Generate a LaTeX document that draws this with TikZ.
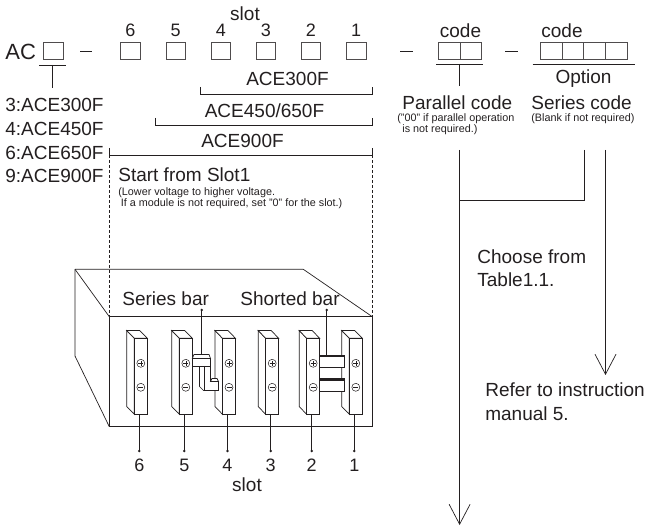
\documentclass[tikz,border=0pt]{standalone}
\usepackage{fontspec}
\setmainfont{Liberation Sans}
\usetikzlibrary{arrows.meta}
\definecolor{ink}{HTML}{231F20}
\tikzset{
  lbl/.style={inner sep=0pt, font=\fontsize{19}{22}\selectfont},
  biglbl/.style={inner sep=0pt, font=\fontsize{22}{26}\selectfont},
  diglbl/.style={inner sep=0pt, font=\fontsize{18}{21}\selectfont},
  smalllbl/.style={inner sep=0pt, font=\fontsize{10.8}{13}\selectfont},
  codebox/.style={draw=ink!80, line width=0.6pt, minimum width=19.5pt, minimum height=17.5pt, inner sep=0pt},
  optbox/.style={draw=ink!80, line width=0.6pt, minimum width=21.8pt, minimum height=17.5pt, inner sep=0pt},
  dashline/.style={dashed, dash pattern=on 3pt off 2pt, line width=0.6pt},
  openarrow/.style={-{Straight Barb[length=20pt,width=21pt,line width=0.7pt]}},
  dotmark/.style={fill=ink}
}
\begin{document}
\begin{tikzpicture}[x=1pt,y=-1pt,line width=0.7pt,color=ink]
\useasboundingbox (0,0) rectangle (645,526);

% ---------- left code: AC box ----------
\node[biglbl, anchor=base west] (ac) at (5,60) {AC};
\node[codebox] (acbox) at (53.3,51) {};
\coordinate (acul1) at (39,65);
\coordinate (acul2) at (66,65);
\coordinate (acmid) at (52.5,65);
\coordinate (acdown) at (52.5,88);
\draw (acul1) -- (acul2);
\draw (acmid) -- (acdown);
\coordinate (dashA1) at (80,51.5);
\coordinate (dashA2) at (92,51.5);
\draw (dashA1) -- (dashA2);

\node[lbl, anchor=base west] (m3) at (5,112) {3:ACE300F};
\node[lbl, anchor=base west] (m4) at (5,136) {4:ACE450F};
\node[lbl, anchor=base west] (m6) at (5,159.5) {6:ACE650F};
\node[lbl, anchor=base west] (m9) at (5,183) {9:ACE900F};

% ---------- slot boxes ----------
\node[lbl, anchor=base] (slottop) at (245,20.5) {slot};
\foreach \n/\x in {6/130.3,5/175.7,4/220.8,3/265.9,2/311,1/356.2}{
  \node[codebox] (s\n) at (\x,51) {};
  \node[diglbl, anchor=base] (sn\n) at (\x,37) {\n};
}

% ---------- brackets ----------
\coordinate (b1a) at (200,87);   \coordinate (b1b) at (200,94.5);
\coordinate (b1c) at (372.3,94.5); \coordinate (b1d) at (372.3,87);
\draw (b1a) -- (b1b) -- (b1c) -- (b1d);
\node[lbl, anchor=base] (t300) at (287.5,86) {ACE300F};

\coordinate (b2a) at (155,118); \coordinate (b2b) at (155,125.5);
\coordinate (b2c) at (372.3,125.5); \coordinate (b2d) at (372.3,118);
\draw (b2a) -- (b2b) -- (b2c) -- (b2d);
\node[lbl, anchor=base] (t450) at (264.5,118) {ACE450/650F};

\coordinate (b3a) at (109.3,148); \coordinate (b3b) at (109.3,155);
\coordinate (b3c) at (372.3,155); \coordinate (b3d) at (372.3,148);
\draw (b3a) -- (b3b) -- (b3c) -- (b3d);
\node[lbl, anchor=base] (t900) at (242.5,148) {ACE900F};

\node[lbl, anchor=base west] (start) at (118,182) {Start from Slot1};
\node[smalllbl, anchor=base west] (startn1) at (118,196) {(Lower voltage to higher voltage.};
\node[smalllbl, anchor=base west] (startn2) at (120.5,207) {If a module is not required, set "0" for the slot.)};

% ---------- the unit (box) ----------
\coordinate (bk1) at (75,269.3);
\coordinate (bk2) at (303.3,269.3);
\coordinate (fr1) at (109.3,316.7);
\coordinate (fr2) at (372.3,316.7);
\coordinate (fr3) at (372.3,426.7);
\coordinate (fr4) at (109.3,426.7);
\coordinate (lf1) at (75,356);
\draw (bk1) -- (bk2) -- (fr2);
\draw (bk1) -- (fr1);
\draw (bk1) -- (lf1) -- (fr4);
\draw (fr1) -- (fr2) -- (fr3) -- (fr4);
\draw[line width=1.3pt] (fr1) -- (fr4);

\draw[dashline] (b3b) -- (fr1);
\draw[dashline] (b3c) -- (fr2);

\node[lbl, anchor=base west] (serlbl) at (122,305.7) {Series bar};
\node[lbl, anchor=base west] (shlbl) at (240,305.7) {Shorted bar};

% ---------- terminals ----------
\foreach \n/\xl in {6/134.3,5/179.3,4/222.5,3/265.7,2/306.7,1/349.3}{
  \filldraw[fill=white] (\xl,338.3) -- (\xl-7.5,330.6) -- (\xl-7.5,406.6) -- (\xl,414.3) -- cycle;
  \filldraw[fill=white] (\xl-7.5,330.6) -- (\xl+5.5,330.6) -- (\xl+13,338.3) -- (\xl,338.3) -- cycle;
  \filldraw[fill=white] (\xl,338.3) rectangle (\xl+13,414.3);
  \draw[line width=1.2pt] (\xl,338.3) -- (\xl,414.3);
  \draw[line width=0.5pt] (\xl+6.5,363.3) circle (4);
  \draw[line width=0.5pt] (\xl+4,363.3) -- (\xl+9,363.3) (\xl+6.5,360.8) -- (\xl+6.5,365.8);
  \draw[line width=0.5pt] (\xl+6.5,387.3) circle (4);
  \draw[line width=0.9pt] (\xl+4,387.3) -- (\xl+9,387.3);
  \coordinate (w\n) at (\xl+5,414.3);
  \coordinate (d\n) at (\xl+5,451);
  \draw[line width=0.6pt] (w\n) -- (d\n);
  \fill (d\n) circle (1.4);
  \node[diglbl, anchor=base] (bn\n) at (\xl+5,471.7) {\n};
}
\node[lbl, anchor=base] (slotbot) at (247,491.7) {slot};

% ---------- series bar ----------
\filldraw[fill=white] (192.3,358.5) -- (194,354.5) -- (209,354.5) -- (210.5,358.5) -- cycle;
\filldraw[fill=white] (199.5,366) -- (199.5,386.5) -- (203.5,390.5) -- (218.5,390.5) -- (218.5,381.5) -- (210.5,381.5) -- (210.5,366) -- cycle;
\filldraw[fill=white] (192.3,358.5) rectangle (210.5,366);
\draw (204.5,366) -- (204.5,390.5);
\filldraw[fill=white] (210.5,381.5) -- (212,378.5) -- (217,378.5) -- (218.5,381.5) -- cycle;
\coordinate (serdot) at (201.7,310);
\coordinate (serend) at (201.7,354.5);
\draw[line width=0.6pt] (serdot) -- (serend);
\fill (serdot) circle (1.4);

% ---------- shorted bar ----------
\filldraw[fill=white] (319.7,355) rectangle (344,367.5);
\draw[line width=1.6pt] (319.7,356.6) -- (344,356.6);
\filldraw[fill=white] (319.7,378.3) rectangle (344,391.7);
\draw[line width=1.6pt] (319.7,379.9) -- (344,379.9);
\coordinate (shdot) at (326.7,310);
\coordinate (shend) at (326.7,355);
\draw[line width=0.6pt] (shdot) -- (shend);
\fill (shdot) circle (1.4);

% ---------- parallel code ----------
\coordinate (dashB1) at (400,51.5);
\coordinate (dashB2) at (413.3,51.5);
\draw (dashB1) -- (dashB2);
\node[optbox] (p1) at (448.9,51) {};
\node[optbox] (p2) at (470.7,51) {};
\node[lbl, anchor=base] (pcode) at (460.5,37.5) {code};
\coordinate (pul1) at (436,64);
\coordinate (pul2) at (483.3,64);
\coordinate (pmid) at (459.6,64);
\coordinate (pdown) at (459.6,86.5);
\draw (pul1) -- (pul2);
\draw (pmid) -- (pdown);

\coordinate (dashC1) at (505,51.5);
\coordinate (dashC2) at (518.3,51.5);
\draw (dashC1) -- (dashC2);
\foreach \i/\x in {1/551,2/572.8,3/594.6,4/616.4}{
  \node[optbox] (o\i) at (\x,51) {};
}
\node[lbl, anchor=base] (ocode) at (562,37.5) {code};
\coordinate (oul1) at (532.5,64);
\coordinate (oul2) at (635,64);
\draw (oul1) -- (oul2);
\node[lbl, anchor=base] (option) at (583.5,84) {Option};

\node[lbl, anchor=base west] (parcode) at (402,109.5) {Parallel code};
\node[lbl, anchor=base west] (sercode) at (531,109.5) {Series code};
\node[smalllbl, anchor=base west] (parn1) at (397,122) {("00" if parallel operation};
\node[smalllbl, anchor=base west] (parn2) at (402,133) {is not required.)};
\node[smalllbl, anchor=base west] (sern1) at (531,122) {(Blank if not required)};

% ---------- flow lines ----------
\coordinate (pl0) at (459.6,150);
\coordinate (plj) at (459.6,200);
\coordinate (pl1) at (459.6,525);
\coordinate (sl0) at (584.2,150);
\coordinate (slj) at (584.2,200);
\coordinate (ar0) at (605.5,150);
\coordinate (ar1) at (605.5,375);
\draw[openarrow] (pl0) -- (pl1);
\draw (sl0) -- (slj) -- (plj);
\draw[openarrow] (ar0) -- (ar1);

\node[lbl, anchor=base west] (choose1) at (477,263.3) {Choose from};
\node[lbl, anchor=base west] (choose2) at (477,286.7) {Table1.1.};
\node[lbl, anchor=base west] (refer1) at (485,396.7) {Refer to instruction};
\node[lbl, anchor=base west] (refer2) at (485,420) {manual 5.};
\end{tikzpicture}
\end{document}
